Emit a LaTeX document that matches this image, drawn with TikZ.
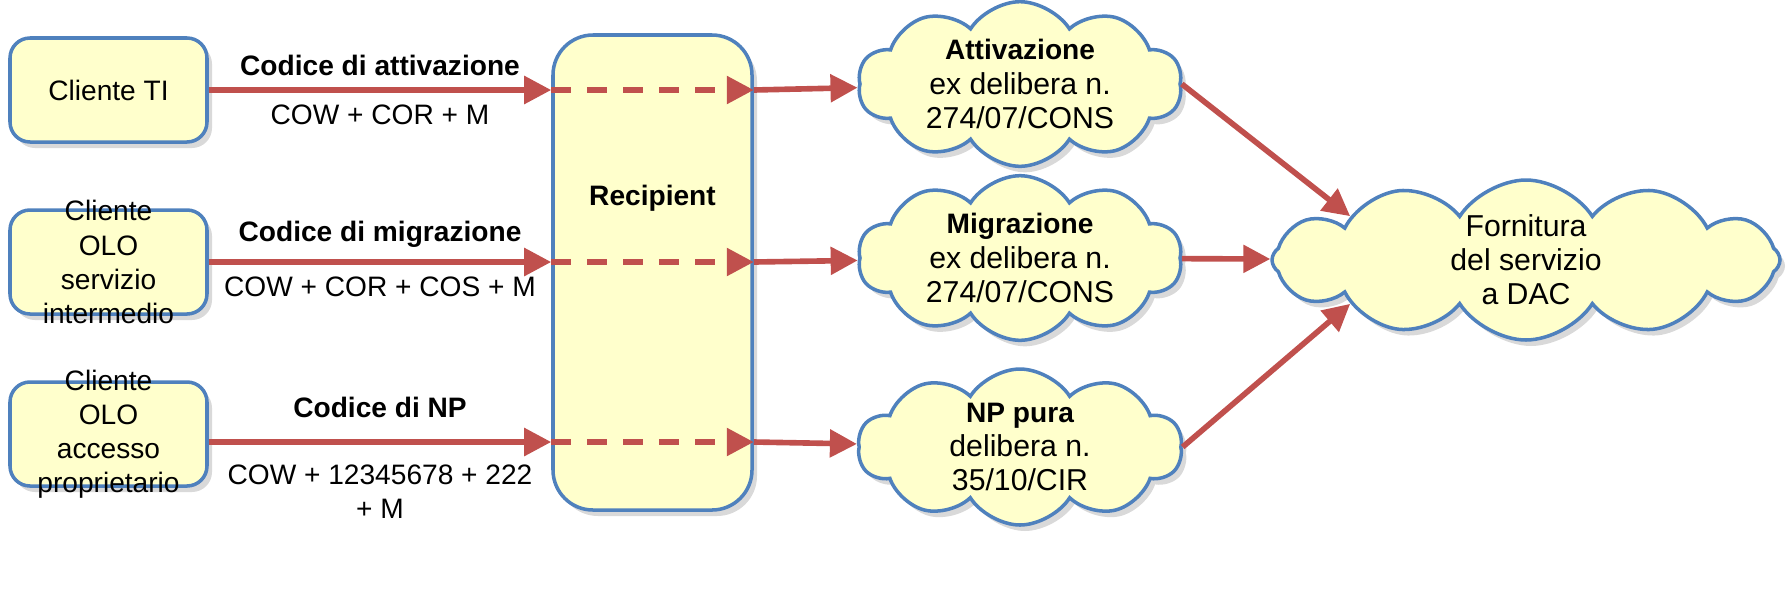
\documentclass[tikz,border=0pt]{standalone}
\usepackage{fontspec}
\setmainfont{Liberation Sans}
\usepackage{tikz}
\usetikzlibrary{shapes.symbols, arrows.meta, shadows}
\definecolor{boxfill}{HTML}{FFFFCC}
\definecolor{boxline}{HTML}{4F81BD}
\definecolor{arrowred}{HTML}{C0504D}
\newcommand{\smallfont}{\fontsize{8}{9.7}\selectfont}
\newcommand{\cloudfont}{\fontsize{8.6}{9.7}\selectfont}
\newcommand{\cloudtitle}[1]{{\smallfont\bfseries #1}}
\tikzstyle{client} = [rectangle, rounded corners=0.2cm,
minimum width=1.97cm,
minimum height=1.04cm,
inner ysep=-0.2cm,
align=center,
draw=boxline, line width=1pt,
fill=boxfill,
drop shadow={shadow xshift=0.05cm, shadow yshift=-0.06cm, opacity=0.3}]
\tikzstyle{recip} = [rectangle, rounded corners=0.4cm,
minimum width=1.99cm,
text height=1.6cm, text depth=2.95cm,
inner ysep=0.1cm,
font=\smallfont\bfseries,
draw=boxline, line width=1pt,
fill=boxfill,
drop shadow={shadow xshift=0.05cm, shadow yshift=-0.06cm, opacity=0.3}]
\tikzstyle{rule} = [cloud, cloud puffs=10, cloud puff arc=115,
cloud ignores aspect,
minimum width=3.24cm,
minimum height=1.56cm,
align=center, inner sep=0pt,
font=\cloudfont,
draw=boxline, line width=1pt,
fill=boxfill,
drop shadow={shadow xshift=0.05cm, shadow yshift=-0.06cm, opacity=0.3}]
\tikzstyle{code} = [above, font=\smallfont\bfseries]
\tikzstyle{arrow} = [line width=1.6pt, draw=arrowred,
-{Triangle[length=0.27cm, width=0.27cm, fill=arrowred]}]
\tikzstyle{dasharrow} = [arrow, dash pattern=on 0.2cm off 0.16cm]

\begin{document}
\begin{tikzpicture}[node distance=1.72cm, font=\smallfont]
\useasboundingbox (0,0) rectangle (17.87,-5.97);

\node (cti) [client] at (1.085,-0.90) {Cliente TI};
\node (csi) [client, below of=cti] {Cliente\\OLO\\servizio\\intermedio};
\node (cap) [client, below of=csi] {Cliente\\OLO\\accesso\\proprietario};

\node (rec) [recip] at (6.525,-2.725) {Recipient};

\node (att) [rule] at (10.20,-0.84) {\cloudtitle{Attivazione}\\ex delibera n.\\274/07/CONS};
\node (mig) [rule, below of=att, yshift=-0.02cm] {\cloudtitle{Migrazione}\\ex delibera n.\\274/07/CONS};
\node (np) [rule, below of=mig, yshift=-0.17cm] {\cloudtitle{NP pura}\\delibera n.\\35/10/CIR};

\node (dac) [rule, cloud puffs=12, minimum width=5.08cm, minimum height=1.6cm] at (15.26,-2.60) {Fornitura\\del servizio\\a DAC};

\draw [arrow] (cti.east) -- node[code] {Codice di attivazione}
  node[below] {COW + COR + M} (cti.east -| rec.west);
\draw [arrow] (csi.east) -- node[code] {Codice di migrazione}
  node[below] {COW + COR + COS + M} (csi.east -| rec.west);
\draw [arrow] ([yshift=-0.08cm]cap.east) -- node[code, yshift=0.1cm] {Codice di NP}
  node[below, yshift=-0.08cm, align=center] {COW + 12345678 + 222\\+ M} ([yshift=-0.08cm]cap.east -| rec.west);

\draw [dasharrow] (cti.east -| rec.west) -- (cti.east -| rec.east);
\draw [dasharrow] (csi.east -| rec.west) -- (csi.east -| rec.east);
\draw [dasharrow] ([yshift=-0.08cm]cap.east -| rec.west) -- ([yshift=-0.08cm]cap.east -| rec.east);

\draw [arrow] (cti.east -| rec.east) -- (att);
\draw [arrow] (csi.east -| rec.east) -- (mig);
\draw [arrow] ([yshift=-0.08cm]cap.east -| rec.east) -- (np);

\draw [arrow] (att.east) -- (dac.166);
\draw [arrow] (mig) -- (dac);
\draw [arrow] (np.east) -- (dac.194);

\end{tikzpicture}
\end{document}
